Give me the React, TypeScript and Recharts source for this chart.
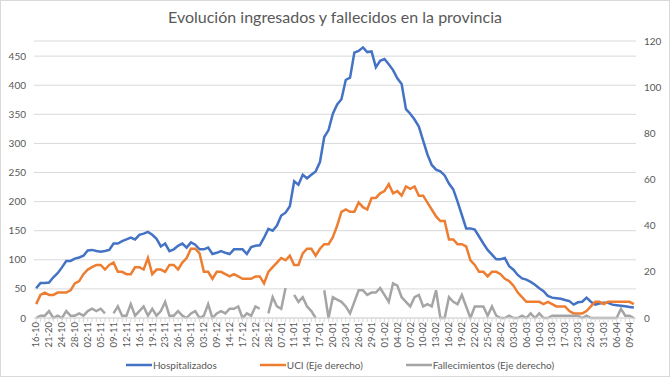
import React from 'react';
import { LineChart, Line, XAxis, YAxis, CartesianGrid, Legend } from 'recharts';

const dates = [
  "16-10","19-10","20-10","21-20","22-10","23-10","24-10","26-10","27-10","28-10",
  "29-10","30-10","02-11","03-11","04-11","05-11","06-11","07-11","09-11","10-11",
  "11-11","12-11","13-11","14-11","16-11","17-11","18-11","19-11","20-11","21-11",
  "23-11","24-11","25-11","26-11","27-11","28-11","30-11","01-12","02-12","03-12",
  "04-12","07-12","09-12","10-12","11-12","14-12","15-12","16-12","17-12","18-12",
  "21-12","22-12","23-12","24-12","28-12","30-12","04-01","07-01","08-01","09-01",
  "11-01","12-01","13-01","14-01","15-01","16-01","17-01","18-01","19-01","20-01",
  "21-01","22-01","23-01","24-01","25-01","26-01","27-01","28-01","29-01","30-01",
  "31-01","01-02","02-02","03-02","04-02","05-02","06-02","07-02","08-02","09-02",
  "10-02","11-02","12-02","13-02","14-02","15-02","16-02","17-02","18-02","19-02",
  "20-02","21-02","22-02","23-02","24-02","25-02","26-02","27-02","28-02","01-03",
  "02-03","03-03","04-03","05-03","06-03","08-03","09-03","10-03","11-03","12-03",
  "13-03","15-03","16-03","17-03","18-03","22-03","23-03","24-03","25-03","26-03",
  "29-03","30-03","31-03","01-04","05-04","06-04","07-04","08-04","09-04","12-04"
];

const hospitalizados = [
  51,60,60,61,70,77,87,98,98,102,
  104,107,116,117,115,114,115,117,128,128,
  132,135,138,135,143,145,148,143,136,123,
  128,115,118,124,128,121,130,126,118,118,
  121,110,112,115,112,110,118,118,118,110,
  122,124,125,138,153,150,159,176,181,192,
  235,229,246,240,246,252,268,311,323,351,
  367,376,409,413,456,459,465,457,458,431,
  442,445,436,426,412,402,359,351,341,329,
  305,281,263,255,252,245,231,221,200,177,
  154,154,152,140,128,117,109,101,101,103,
  89,83,74,68,66,62,57,51,46,38,
  35,34,33,31,29,23,27,28,35,28,
  23,25,26,26,23,22,21,20,19,18
];

const uci = [
  6,10,11,10,10,11,11,11,12,15,
  16,19,21,22,23,23,21,23,24,20,
  20,19,19,22,22,21,26,19,21,21,
  20,23,23,21,24,26,30,30,28,20,
  20,17,20,20,19,18,19,18,17,17,
  17,18,18,15,20,22,24,26,25,27,
  23,23,28,30,30,27,30,32,32,35,
  40,46,47,46,46,50,48,47,52,52,
  54,55,58,54,55,53,57,56,57,53,
  53,50,47,44,42,42,34,34,32,32,
  31,25,23,20,20,18,20,20,19,17,
  16,14,11,9,7,7,7,7,6,7,
  6,5,5,5,3,2,2,2,3,5,
  7,7,6,7,7,7,7,7,7,6
];

const fallecimientos: (number | null)[] = [
  0,1,1,3,0,1,0,3,1,1,
  2,1,3,4,3,4,2,null,2,5,
  1,1,6,1,3,5,1,4,1,3,
  7,1,1,3,1,0,2,3,0,1,
  6,0,2,3,2,4,4,5,0,2,
  1,5,4,null,2,9,5,4,13,null,
  10,7,9,5,3,0,null,12,0,9,
  8,7,5,2,7,12,12,10,11,11,
  13,10,7,15,14,9,7,5,9,10,
  5,6,5,12,0,0,9,7,6,10,
  5,0,5,5,5,1,5,1,0,0,
  1,0,0,1,0,2,0,2,0,0,
  1,1,1,1,1,1,1,0,1,0,
  0,0,0,0,0,0,4,1,1,0
];

const leftTicks = [0, 50, 100, 150, 200, 250, 300, 350, 400, 450];
const rightTicks = [0, 20, 40, 60, 80, 100, 120];

const seriesNames = ["Hospitalizados", "UCI (Eje derecho)", "Fallecimientos (Eje derecho)"];
const seriesColors = ["#4472C4", "#ED7D31", "#A5A5A5"];
const title = "Evolución ingresados y fallecidos en la provincia";

const data = dates.map((d, i) => ({
  fecha: d,
  hosp: hospitalizados[i],
  uci: uci[i],
  fall: fallecimientos[i],
}));

const FONT = 'Lato, "Liberation Sans", sans-serif';
const TEXT = '#595959';

function DateTick(props: any) {
  const { x, y, payload, index } = props;
  if (index % 3 !== 0) return <g />;
  return (
    <text
      x={x}
      y={y}
      transform={`rotate(-90, ${x}, ${y})`}
      textAnchor="end"
      dy="0.35em"
      fontSize={9.5}
      fill={TEXT}
      fontFamily={FONT}
    >
      {payload.value}
    </text>
  );
}

function LegendContent() {
  return (
    <div style={{ display: 'flex', justifyContent: 'center', gap: 43, paddingLeft: 10, fontSize: 10, color: TEXT, fontFamily: FONT, lineHeight: '16px' }}>
      {seriesNames.map((n, i) => (
        <div key={n} style={{ display: 'flex', alignItems: 'center' }}>
          <svg width={26} height={16} style={{ marginRight: 1 }}>
            <line x1={0} y1={8} x2={26} y2={8} stroke={seriesColors[i]} strokeWidth={2.5} />
          </svg>
          <span>{n}</span>
        </div>
      ))}
    </div>
  );
}

export default function App() {
  return (
    <div style={{ position: 'absolute', left: 0, top: 0, width: 670, height: 377, background: '#fff', fontFamily: FONT }}>
      <LineChart width={670} height={377} data={data} margin={{ top: 41, right: 0, bottom: 19, left: 0 }}>
        <CartesianGrid yAxisId="left" vertical={false} stroke="#d9d9d9" strokeWidth={1} />
        <XAxis
          dataKey="fecha"
          interval={0}
          tick={<DateTick />}
          tickSize={4}
          tickMargin={0}
          tickLine={{ stroke: '#d9d9d9' }}
          axisLine={{ stroke: '#d9d9d9' }}
          height={40}
          padding={{ left: 2.15, right: 2.15 }}
        />
        <YAxis
          yAxisId="left"
          domain={[0, 476]}
          ticks={leftTicks}
          interval={0}
          axisLine={false}
          tickLine={false}
          width={34}
          tick={{ fontSize: 10, fill: TEXT, fontFamily: FONT }}
        />
        <YAxis
          yAxisId="right"
          orientation="right"
          domain={[0, 120]}
          ticks={rightTicks}
          interval={0}
          axisLine={false}
          tickLine={false}
          width={34}
          tick={{ fontSize: 10, fill: TEXT, fontFamily: FONT, textAnchor: 'start' }}
        />
        <Legend
          layout="horizontal"
          verticalAlign="middle"
          align="center"
          content={<LegendContent />}
          wrapperStyle={{ top: 357, left: 0, width: 670, height: 16 }}
        />
        <Line yAxisId="left" type="linear" dataKey="hosp" name={seriesNames[0]} stroke={seriesColors[0]} strokeWidth={2.5} dot={false} isAnimationActive={false} />
        <Line yAxisId="right" type="linear" dataKey="uci" name={seriesNames[1]} stroke={seriesColors[1]} strokeWidth={2.5} dot={false} isAnimationActive={false} />
        <Line yAxisId="right" type="linear" dataKey="fall" name={seriesNames[2]} stroke={seriesColors[2]} strokeWidth={2.5} dot={false} connectNulls={false} isAnimationActive={false} />
      </LineChart>
      <div style={{ position: 'absolute', top: 7, left: 0, width: 670, textAlign: 'center', fontSize: 16, color: TEXT, lineHeight: '20px' }}>
        {title}
      </div>
      <div style={{ position: 'absolute', left: 0, top: 0, width: 668, height: 375, border: '1px solid #d9d9d9', pointerEvents: 'none' }} />
    </div>
  );
}
